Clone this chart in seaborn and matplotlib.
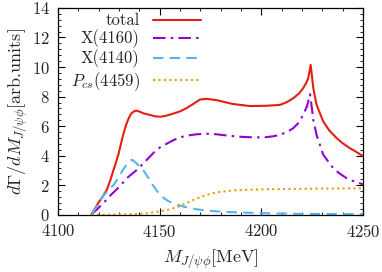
import pandas as pd
import matplotlib
matplotlib.use('Agg')
import matplotlib.pyplot as plt
import seaborn as sns
from matplotlib.ticker import MultipleLocator

# curves
total_m = [4116.5, 4118, 4120, 4122, 4124, 4125.6, 4127.2, 4128.5, 4129.7, 4130.5, 4132,
           4133.5, 4134.8, 4136, 4137.3, 4138.7, 4140.3, 4142, 4145.2, 4148, 4150.5,
           4153, 4156.7, 4160, 4163, 4166.5, 4169.8, 4173, 4178, 4186, 4194.5, 4202.7,
           4209.2, 4212.5, 4215.7, 4218.5, 4220.6, 4222, 4223.1, 4224.3, 4225, 4225.6, 4227.2,
           4230.5, 4233.5, 4237.1, 4240, 4243.6, 4246.5, 4250]
total_v = [0.05, 0.4, 0.85, 1.25, 1.69, 2.3, 3.0, 3.55, 4.1, 4.55, 5.4,
           6.1, 6.55, 6.85, 7.0, 7.05, 6.97, 6.87, 6.76, 6.66, 6.64,
           6.7, 6.85, 7.0, 7.2, 7.5, 7.8, 7.85, 7.76, 7.5, 7.36, 7.38,
           7.44, 7.62, 7.89, 8.2, 8.57, 8.9, 9.24, 10.14, 9.3, 8.57, 7.44,
           6.31, 5.7, 5.19, 4.85, 4.51, 4.28, 3.98]

x4160_m = [4116.5, 4119, 4122.3, 4126, 4130.5, 4134, 4138.7, 4143.5, 4147, 4150,
           4152.6, 4156.7, 4160, 4163, 4168, 4173, 4178, 4183, 4188, 4192.8, 4198,
           4202.7, 4206, 4209.2, 4212.5, 4215.7, 4218.5, 4220.6, 4222.5, 4224, 4225,
           4225.6, 4227.2, 4230.5, 4235.4, 4238.5, 4242, 4245, 4248.5, 4250]
x4160_v = [0.05, 0.35, 0.8, 1.35, 1.95, 2.5, 3.04, 3.7, 4.2, 4.55,
           4.75, 5.05, 5.24, 5.35, 5.45, 5.49, 5.45, 5.37, 5.3, 5.26, 5.24,
           5.26, 5.32, 5.41, 5.6, 5.86, 6.25, 6.76, 7.35, 8.16, 7.1,
           6.42, 5.41, 4.06, 3.16, 2.8, 2.48, 2.3, 2.14, 2.07]

x4140_m = [4116.5, 4117.4, 4120, 4122.3, 4125, 4127.5, 4130, 4132.1, 4134, 4135.3, 4136.2,
           4137.2, 4138.5, 4140, 4142, 4144, 4146, 4148.5, 4151, 4154, 4158, 4163, 4168, 4173,
           4180, 4186, 4195, 4202.7, 4212, 4219, 4230, 4240, 4250]
x4140_v = [0.05, 0.22, 0.8, 1.3, 1.7, 2.05, 2.6, 3.08, 3.45, 3.65, 3.72,
           3.65, 3.5, 3.3, 3.0, 2.6, 2.14, 1.65, 1.24, 0.95, 0.7, 0.52, 0.38, 0.29,
           0.22, 0.18, 0.14, 0.11, 0.09, 0.07, 0.06, 0.05, 0.05]

pcs_m = [4116.5, 4125, 4137, 4143, 4150, 4153.5, 4156.7, 4160, 4163, 4166.5, 4170, 4173,
         4176.4, 4180, 4186, 4193, 4202.7, 4210, 4219, 4230, 4240, 4250]
pcs_v = [0.0, 0.01, 0.04, 0.1, 0.23, 0.33, 0.45, 0.6, 0.79, 1.0, 1.2, 1.35,
         1.47, 1.56, 1.65, 1.7, 1.74, 1.75, 1.76, 1.78, 1.79, 1.8]

sns.set_style('ticks')
plt.rcParams['font.family'] = 'serif'
plt.rcParams['font.serif'] = ['cmr10']
plt.rcParams['mathtext.fontset'] = 'cm'
plt.rcParams['axes.formatter.use_mathtext'] = True
plt.rcParams['font.size'] = 12

fig = plt.figure(figsize=(3.82, 2.72), dpi=100)
ax = fig.add_axes([0.152, 0.21, 0.798, 0.761])

sns.lineplot(x=total_m, y=total_v, ax=ax, color='#e51e10', lw=1.5, sort=False, label='total')
sns.lineplot(x=x4160_m, y=x4160_v, ax=ax, color='#9400d3', lw=1.5, sort=False, label='X(4160)')
sns.lineplot(x=x4140_m, y=x4140_v, ax=ax, color='#56b4e9', lw=1.5, sort=False, label='X(4140)')
sns.lineplot(x=pcs_m, y=pcs_v, ax=ax, color='#e69f00', lw=1.5, sort=False,
             label=r'$P_{cs}(4459)$')
ax.lines[1].set_dashes([6, 2.5, 1.2, 2.5])
ax.lines[2].set_dashes([5, 3])
ax.lines[3].set_dashes([1, 1.6])

ax.set_xlim(4100, 4250)
ax.set_ylim(0, 14)
ax.xaxis.set_major_locator(MultipleLocator(50))
ax.xaxis.set_minor_locator(MultipleLocator(10))
ax.yaxis.set_major_locator(MultipleLocator(2))
ax.yaxis.set_minor_locator(MultipleLocator(0.4))
ax.tick_params(which='both', direction='in', top=True, right=True, color='black')
ax.tick_params(which='major', length=5, width=0.8, pad=6)
ax.tick_params(which='minor', length=2.5, width=0.6)
for s in ax.spines.values():
    s.set_color('black')
    s.set_linewidth(0.9)

ax.set_xlabel(r'$M_{J/\psi\phi}$[MeV]', fontsize=13, labelpad=5)
ax.set_ylabel(r'$d\Gamma/dM_{J/\psi\phi}$[arb.units]', fontsize=13, labelpad=2)

leg = ax.legend(loc='upper right', bbox_to_anchor=(0.47, 0.975), markerfirst=False,
                frameon=False, handlelength=2.9, handletextpad=0.8, labelspacing=0.08,
                borderpad=0, borderaxespad=0)

fig.savefig('out.png', dpi=100)
